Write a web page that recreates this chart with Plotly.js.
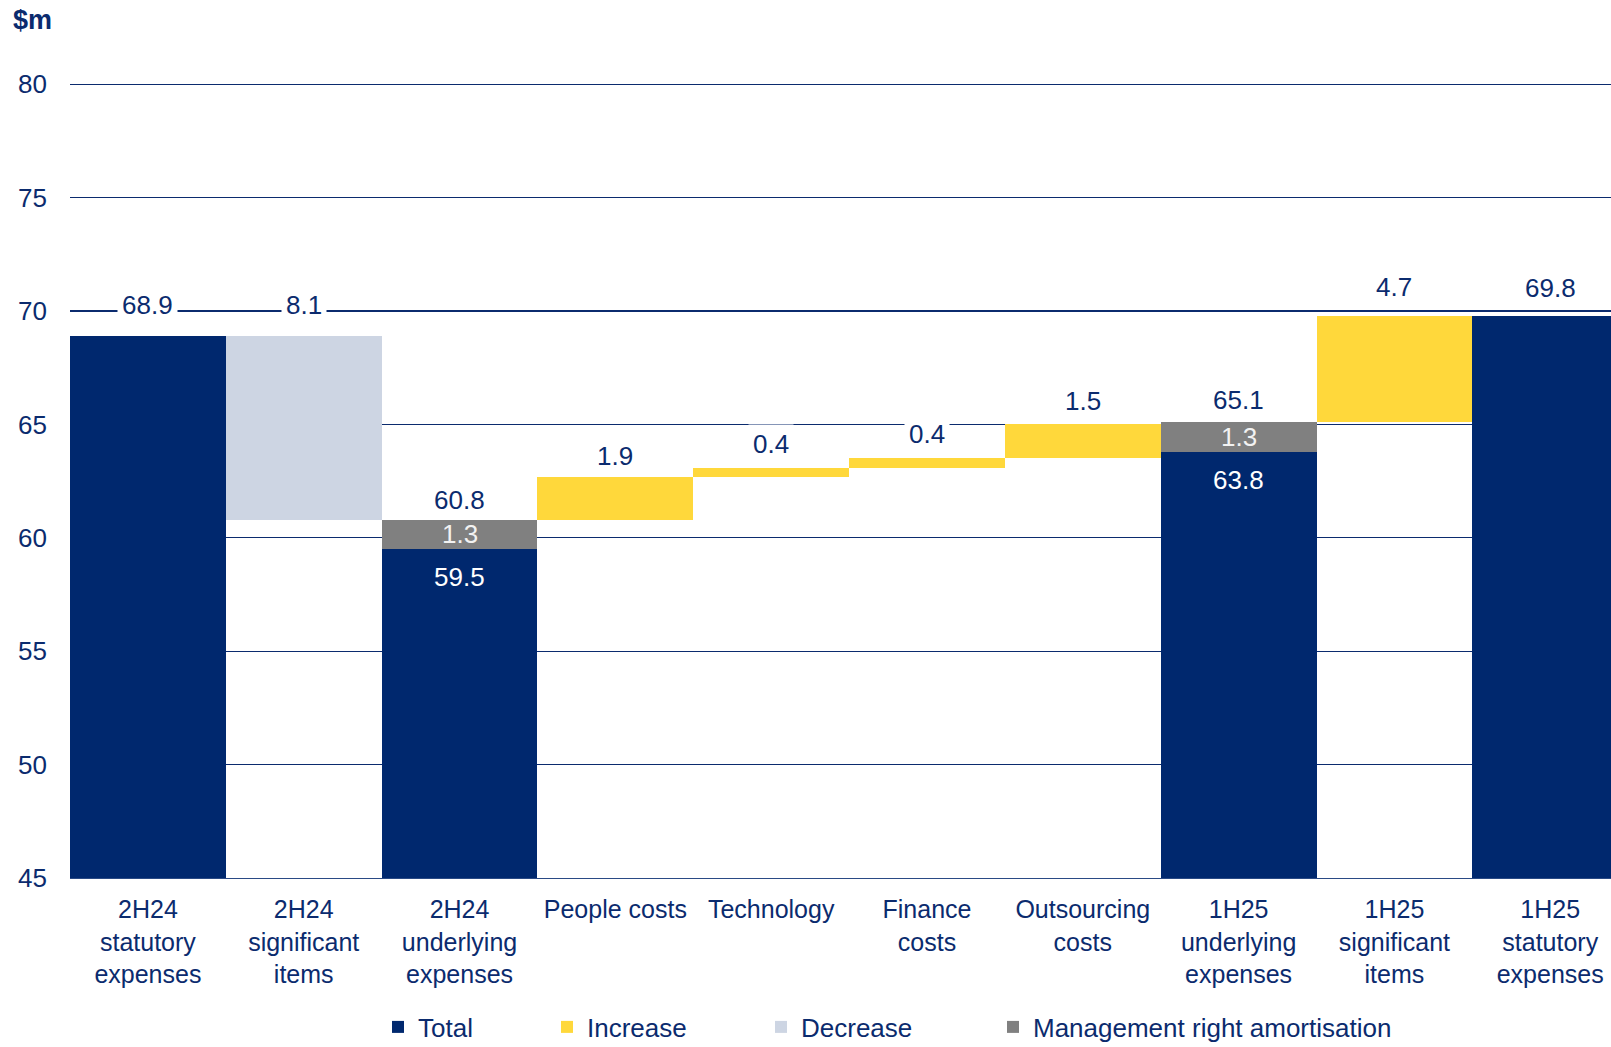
<!DOCTYPE html>
<html>
<head>
<meta charset="utf-8">
<script src="https://cdn.plot.ly/plotly-3.0.1.min.js"></script>
<style>html,body{margin:0;padding:0;background:#fff;}#chart{width:1611px;height:1047px;}</style>
</head>
<body>
<div id="chart"></div>
<script>
// ---- data ----
const categories = [
  "2H24<br>statutory<br>expenses",
  "2H24<br>significant<br>items",
  "2H24<br>underlying<br>expenses",
  "People costs",
  "Technology",
  "Finance<br>costs",
  "Outsourcing<br>costs",
  "1H25<br>underlying<br>expenses",
  "1H25<br>significant<br>items",
  "1H25<br>statutory<br>expenses"
];
const totalVals    = [68.9, null, 59.5, null, null, null, null, 63.8, null, 69.8];
const mgmtVals     = [null, null, 1.3,  null, null, null, null, 1.3,  null, null];
const increaseVals = [null, null, null, 1.9,  0.4,  0.4,  1.5,  null, 4.7,  null];
const decreaseVals = [null, 8.1,  null, null, null, null, null, null, null, null];
const topLabels    = ["68.9", "8.1", "60.8", "1.9", "0.4", "0.4", "1.5", "65.1", "4.7", "69.8"];
const yTicks = [45, 50, 55, 60, 65, 70, 75, 80];

// ---- styles ----
const NAVY = "#00286E";
const YELLOW = "#FFD83B";
const DECR = "#CDD5E3";
const GREY = "#808080";
const TEXT = "#0B2B6E";
const FONT = "Liberation Sans, Arial, sans-serif";
const labelShift = [31, 31, 20, 21, 24, 24, 23, 22, 29, 28]; // px above bar top

// ---- waterfall bases computed from the values ----
const n = categories.length;
const mgmtBase = new Array(n).fill(null);
const incBase = new Array(n).fill(null);
const decBase = new Array(n).fill(null);
const tops = new Array(n).fill(null);
let level = 0;
for (let i = 0; i < n; i++) {
  if (totalVals[i] != null) {
    level = totalVals[i];
    if (mgmtVals[i] != null) { mgmtBase[i] = totalVals[i]; level += mgmtVals[i]; }
    tops[i] = level;
  } else if (decreaseVals[i] != null) {
    tops[i] = level;
    level -= decreaseVals[i];
    decBase[i] = level;
  } else if (increaseVals[i] != null) {
    incBase[i] = level;
    level += increaseVals[i];
    tops[i] = level;
  }
}

const common = {type: "bar", x: categories, hoverinfo: "skip"};
const traces = [
  Object.assign({}, common, {name: "Total", y: totalVals, base: totalVals.map(v => v == null ? null : 0),
    marker: {color: NAVY, line: {width: 0}}, legendwidth: 124}),
  Object.assign({}, common, {name: "Increase", y: increaseVals, base: incBase,
    marker: {color: YELLOW, line: {width: 0}}, legendwidth: 169}),
  Object.assign({}, common, {name: "Decrease", y: decreaseVals, base: decBase,
    marker: {color: DECR, line: {width: 0}}, legendwidth: 187}),
  Object.assign({}, common, {name: "Management right amortisation", y: mgmtVals, base: mgmtBase,
    marker: {color: GREY, line: {width: 0}}})
];

const annotations = [];
for (let i = 0; i < n; i++) {
  annotations.push({
    x: categories[i], y: tops[i], xref: "x", yref: "y",
    text: topLabels[i], showarrow: false, yanchor: "middle", yshift: labelShift[i],
    font: {family: FONT, size: 26, color: TEXT}, bgcolor: "#ffffff", borderpad: 4
  });
  if (mgmtVals[i] != null) {
    annotations.push({
      x: categories[i], y: mgmtBase[i] + mgmtVals[i] / 2, xref: "x", yref: "y",
      text: mgmtVals[i].toFixed(1), showarrow: false, yanchor: "middle",
      font: {family: FONT, size: 26, color: "#F2F2F2"}
    });
    annotations.push({
      x: categories[i], y: totalVals[i], xref: "x", yref: "y",
      text: totalVals[i].toFixed(1), showarrow: false, yanchor: "middle", yshift: -28,
      font: {family: FONT, size: 26, color: "#ffffff"}
    });
  }
}

const layout = {
  width: 1611, height: 1047,
  margin: {l: 70, r: 0, t: 82.0, b: 169.3, pad: 0},
  paper_bgcolor: "#ffffff", plot_bgcolor: "#ffffff",
  font: {family: FONT, size: 26, color: TEXT},
  title: {text: "<b>$m</b>", xref: "container", yref: "container", x: 0.008, xanchor: "left",
          y: 1 - 20 / 1047, yanchor: "middle", font: {family: FONT, size: 27, color: TEXT}},
  barmode: "overlay", bargap: 0,
  showlegend: true,
  legend: {orientation: "h", xref: "container", yref: "container", x: 378 / 1611, xanchor: "left",
           y: 20 / 1047, yanchor: "middle",
           font: {family: FONT, size: 26, color: TEXT}, traceorder: "normal", bgcolor: "rgba(0,0,0,0)"},
  xaxis: {type: "category", range: [-0.5, 9.39], showgrid: false, zeroline: false, ticks: "",
          showline: true, linecolor: "#2A4A85", linewidth: 1.3,
          tickfont: {family: FONT, size: 25, color: TEXT}, ticklabelstandoff: 9, fixedrange: true},
  yaxis: {range: [45, 80.1], tickvals: yTicks, showgrid: true, gridcolor: "#0B2B6E", gridwidth: 1.3,
          zeroline: false, showline: false, ticks: "", ticklabelstandoff: 22,
          tickfont: {family: FONT, size: 26, color: TEXT}, fixedrange: true},
  annotations: annotations
};

Plotly.newPlot("chart", traces, layout, {displayModeBar: false, staticPlot: true});
</script>
</body>
</html>
